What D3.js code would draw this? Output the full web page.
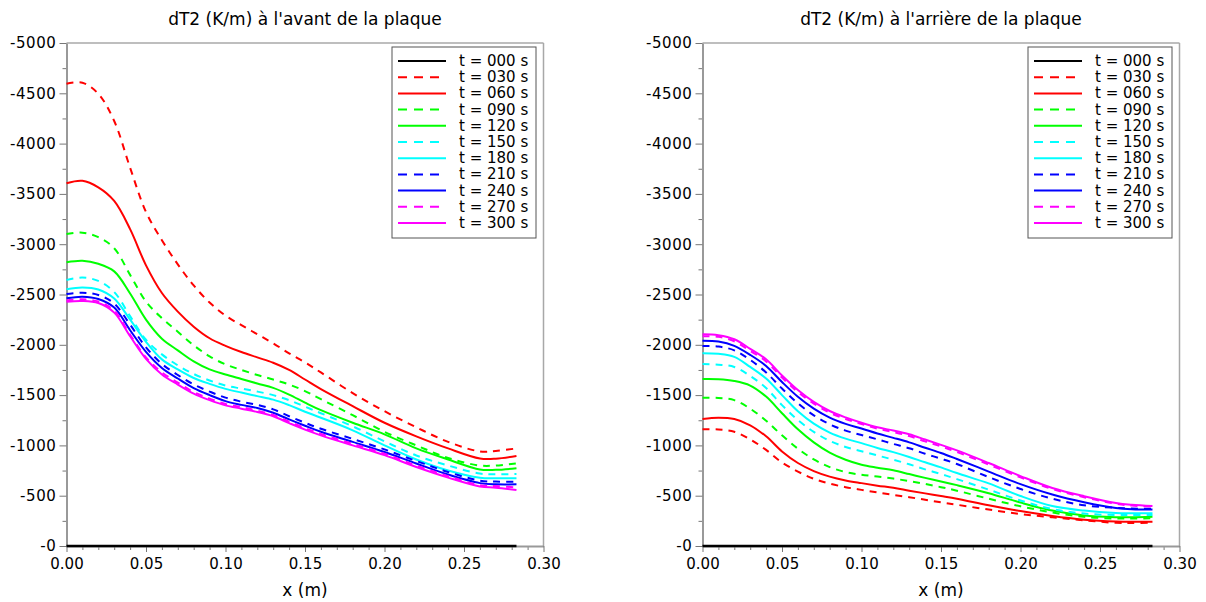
<!DOCTYPE html>
<html><head><meta charset="utf-8">
<script src="https://cdn.jsdelivr.net/npm/d3@7"></script>
<style>
body{margin:0;background:#fff;}
svg{display:block;font-family:"DejaVu Sans",sans-serif;}
</style>
</head><body>
<svg id="c" width="1206" height="602"></svg>
<script>
// ---- data ----
const xs = [0,0.01,0.02,0.03,0.04,0.05,0.06,0.07,0.08,0.09,0.10,0.11,0.12,0.13,0.14,0.15,0.16,0.18,0.20,0.22,0.24,0.26,0.27,0.283];

const times = ["000","030","060","090","120","150","180","210","240","270","300"];
const seriesColors = ["#000000","#ff0000","#ff0000","#00ff00","#00ff00","#00ffff","#00ffff","#0000ff","#0000ff","#ff00ff","#ff00ff"];
const seriesDashed = [false,true,false,true,false,true,false,true,false,true,false];

const titles = ["dT2 (K/m) à l'avant de la plaque","dT2 (K/m) à l'arrière de la plaque"];
const xAxisTitle = "x (m)";
const xTicks = [0,0.05,0.10,0.15,0.20,0.25,0.30];
const xTickLabels = ["0.00","0.05","0.10","0.15","0.20","0.25","0.30"];
const yTicks = [0,-500,-1000,-1500,-2000,-2500,-3000,-3500,-4000,-4500,-5000];
const yTickLabels = ["-0","-500","-1000","-1500","-2000","-2500","-3000","-3500","-4000","-4500","-5000"];

// front of plate (avant)
const avant000 = [0,0,0,0,0,0,0,0,0,0,0,0,0,0,0,0,0,0,0,0,0,0,0,0];
const avant030 = [-4595,-4605,-4495,-4225,-3760,-3320,-3040,-2800,-2590,-2420,-2290,-2195,-2105,-2015,-1915,-1825,-1725,-1520,-1340,-1180,-1035,-940,-945,-970];
const avant060 = [-3606,-3630,-3565,-3430,-3150,-2790,-2515,-2330,-2180,-2065,-1990,-1928,-1875,-1822,-1750,-1655,-1560,-1390,-1225,-1090,-970,-870,-868,-895];
const avant090 = [-3101,-3115,-3070,-2960,-2695,-2430,-2265,-2130,-1995,-1885,-1805,-1750,-1700,-1655,-1605,-1540,-1460,-1300,-1135,-1000,-875,-800,-800,-822];
const avant120 = [-2820,-2835,-2805,-2730,-2510,-2250,-2060,-1945,-1835,-1755,-1705,-1660,-1615,-1572,-1505,-1425,-1350,-1225,-1110,-970,-860,-760,-757,-772];
const avant150 = [-2645,-2668,-2635,-2525,-2285,-2050,-1905,-1795,-1710,-1645,-1595,-1565,-1535,-1500,-1450,-1385,-1320,-1190,-1040,-900,-800,-720,-713,-716];
const avant180 = [-2552,-2570,-2550,-2460,-2250,-2030,-1855,-1755,-1670,-1612,-1562,-1525,-1490,-1455,-1400,-1335,-1275,-1150,-1000,-860,-750,-678,-673,-673];
const avant210 = [-2505,-2518,-2495,-2410,-2200,-1975,-1810,-1700,-1605,-1535,-1475,-1435,-1402,-1358,-1290,-1225,-1165,-1065,-960,-845,-735,-650,-640,-640];
const avant240 = [-2462,-2478,-2455,-2370,-2145,-1930,-1770,-1665,-1570,-1500,-1440,-1403,-1372,-1325,-1258,-1195,-1135,-1035,-935,-820,-710,-625,-613,-613];
const avant270 = [-2440,-2452,-2430,-2340,-2100,-1875,-1725,-1625,-1530,-1465,-1412,-1380,-1345,-1303,-1237,-1172,-1115,-1015,-918,-800,-695,-605,-596,-583];
const avant300 = [-2429,-2436,-2415,-2320,-2085,-1860,-1705,-1605,-1515,-1450,-1398,-1365,-1332,-1290,-1222,-1157,-1100,-1000,-903,-785,-680,-592,-580,-557];

// back of plate (arrière)
const arriere000 = [0,0,0,0,0,0,0,0,0,0,0,0,0,0,0,0,0,0,0,0,0,0,0,0];
const arriere030 = [-1160,-1158,-1135,-1060,-955,-830,-740,-668,-620,-585,-558,-532,-508,-485,-460,-434,-410,-362,-318,-285,-255,-230,-228,-232];
const arriere060 = [-1262,-1275,-1262,-1200,-1090,-940,-825,-745,-690,-652,-625,-600,-578,-550,-523,-497,-470,-405,-347,-298,-262,-243,-240,-242];
const arriere090 = [-1474,-1472,-1450,-1365,-1245,-1100,-967,-861,-784,-735,-708,-690,-670,-645,-617,-585,-550,-470,-395,-333,-290,-273,-273,-275];
const arriere120 = [-1660,-1658,-1640,-1595,-1485,-1320,-1160,-1030,-928,-857,-808,-778,-752,-715,-677,-642,-605,-525,-432,-352,-303,-286,-285,-290];
const arriere150 = [-1809,-1802,-1780,-1690,-1570,-1400,-1252,-1134,-1045,-984,-942,-900,-858,-812,-762,-715,-665,-560,-452,-367,-322,-308,-308,-308];
const arriere180 = [-1916,-1910,-1880,-1780,-1665,-1500,-1339,-1216,-1127,-1067,-1023,-975,-933,-885,-832,-782,-725,-622,-497,-397,-352,-328,-325,-325];
const arriere210 = [-1988,-1982,-1945,-1850,-1725,-1565,-1418,-1299,-1210,-1147,-1103,-1060,-1015,-972,-917,-868,-815,-685,-567,-470,-405,-380,-372,-370];
const arriere240 = [-2041,-2033,-1990,-1900,-1790,-1630,-1483,-1365,-1276,-1214,-1168,-1118,-1075,-1030,-977,-925,-865,-740,-615,-512,-435,-378,-365,-362];
const arriere270 = [-2085,-2080,-2035,-1940,-1835,-1675,-1530,-1415,-1325,-1262,-1212,-1167,-1133,-1093,-1040,-990,-935,-810,-682,-567,-485,-420,-402,-392];
const arriere300 = [-2104,-2095,-2055,-1960,-1856,-1695,-1550,-1432,-1342,-1278,-1225,-1180,-1148,-1110,-1058,-1005,-950,-825,-695,-577,-495,-428,-410,-398];

const avantSeries = [avant000,avant030,avant060,avant090,avant120,avant150,avant180,avant210,avant240,avant270,avant300];
const arriereSeries = [arriere000,arriere030,arriere060,arriere090,arriere120,arriere150,arriere180,arriere210,arriere240,arriere270,arriere300];

// ---- drawing ----
const svg = d3.select("#c");
const PW = 477, TOP = 43, BOT = 546;

function drawPanel(left, title, seriesList) {
  const x = d3.scaleLinear().domain([0, 0.3]).range([left, left + PW]);
  const y = d3.scaleLinear().domain([0, -5000]).range([BOT, TOP]);
  const g = svg.append("g");

  // frame (top & right)
  g.append("line").attr("x1", x(0)).attr("x2", x(0.3)).attr("y1", TOP).attr("y2", TOP)
    .attr("stroke", "#a8a8a8").attr("stroke-width", 1.5);
  g.append("line").attr("x1", x(0.3)).attr("x2", x(0.3)).attr("y1", TOP).attr("y2", BOT)
    .attr("stroke", "#a8a8a8").attr("stroke-width", 1.5);

  // minor ticks
  const minorX = d3.range(1, 30).map(i => i / 100).filter(v => Math.round(v * 100) % 5 !== 0);
  const minorY = d3.range(1, 20).map(i => -250 * i).filter(v => v % 500 !== 0);
  g.append("g").attr("transform", `translate(0,${BOT})`)
    .call(d3.axisBottom(x).tickValues(minorX).tickSize(4).tickFormat(""))
    .call(a => a.select(".domain").remove())
    .call(a => a.selectAll("line").attr("stroke", "#777"));
  g.append("g").attr("transform", `translate(${left},0)`)
    .call(d3.axisLeft(y).tickValues(minorY).tickSize(4).tickFormat(""))
    .call(a => a.select(".domain").remove())
    .call(a => a.selectAll("line").attr("stroke", "#777"));

  // major axes
  const xa = g.append("g").attr("transform", `translate(0,${BOT})`)
    .call(d3.axisBottom(x).tickValues(xTicks).tickFormat((d, i) => xTickLabels[i]).tickSize(6).tickPadding(6).tickSizeOuter(0));
  const ya = g.append("g").attr("transform", `translate(${left},0)`)
    .call(d3.axisLeft(y).tickValues(yTicks).tickFormat((d, i) => yTickLabels[i]).tickSize(7).tickPadding(3).tickSizeOuter(0));
  [xa, ya].forEach(a => {
    a.select(".domain").attr("stroke", "#999").attr("stroke-width", 2);
    a.selectAll(".tick line").attr("stroke", "#777");
    a.selectAll("text").attr("fill", "#000").style("font-size", "15px").style("font-family", '"DejaVu Sans", sans-serif');
  });
  ya.selectAll("text").style("letter-spacing", "0.6px");

  // curves
  const line = d3.line().x((d, i) => x(xs[i])).y(d => y(d)).curve(d3.curveCatmullRom.alpha(0.5));
  seriesList.forEach((vals, k) => {
    if (k === 0) return;
    g.append("path").datum(vals).attr("d", line).attr("fill", "none")
      .attr("stroke", seriesColors[k]).attr("stroke-width", 2)
      .attr("stroke-dasharray", seriesDashed[k] ? "7,6" : null);
  });
  // t = 000 on top of axis
  g.append("path").datum(seriesList[0]).attr("d", line).attr("fill", "none")
    .attr("stroke", seriesColors[0]).attr("stroke-width", 2.5);

  // title
  g.append("text").attr("x", x(0.15)).attr("y", 25).attr("text-anchor", "middle")
    .style("font-size", "17px").attr("fill", "#000").text(title);
  // x label
  g.append("text").attr("x", x(0.15)).attr("y", 596).attr("text-anchor", "middle")
    .style("font-size", "17px").attr("fill", "#000").text(xAxisTitle);

  // legend
  const lx = x(0.3) - 7.5 - 144, ly = 47;
  g.append("rect").attr("x", lx).attr("y", ly).attr("width", 144).attr("height", 191)
    .attr("fill", "#fff").attr("stroke", "#555").attr("stroke-width", 1);
  times.forEach((t, k) => {
    const ry = 61 + k * 16.2;
    g.append("line").attr("x1", lx + 6).attr("x2", lx + 54).attr("y1", ry).attr("y2", ry)
      .attr("stroke", seriesColors[k]).attr("stroke-width", 2)
      .attr("stroke-dasharray", seriesDashed[k] ? "9,7" : null);
    g.append("text").attr("x", lx + 67).attr("y", ry + 5).style("font-size", "15px")
      .attr("fill", "#000").text(`t = ${t} s`);
  });
}

drawPanel(66.5, titles[0], avantSeries);
drawPanel(702.5, titles[1], arriereSeries);
</script>
</body></html>
